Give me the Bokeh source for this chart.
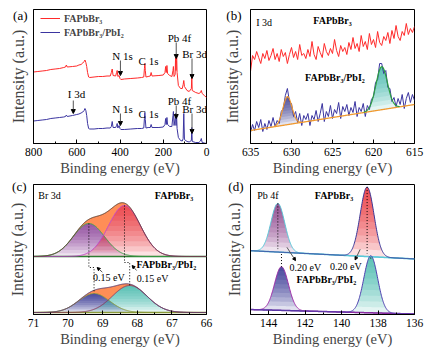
import numpy as np
from bokeh.plotting import figure
from bokeh.layouts import gridplot
from bokeh.models import Range1d, FixedTicker, Label, Arrow, NormalHead, Legend, LegendItem
from bokeh.embed import file_html
from bokeh.resources import INLINE

FONT = "Liberation Serif"

# ---------------- panel (a): survey spectra ----------------
a_energy = [800, 780, 760, 740, 720, 700, 680, 660, 652, 648, 644, 620, 600, 590, 580, 572, 566, 562, 558, 554,
            550, 545, 540, 520, 500, 480, 460, 445, 440, 436, 432, 420, 416, 413, 410, 404, 400, 396, 380, 350,
            320, 300, 290, 287, 285, 283, 280, 270, 260, 256, 252, 220, 200, 192, 189, 186, 183, 180, 170, 160,
            155, 153, 150, 145, 143, 141, 139, 138, 136, 130, 120, 112, 108, 105, 102, 90, 80, 70, 68, 66,
            50, 35, 28, 24, 20, 10, 0]
a_red = [71.5, 72, 72.5, 73, 74, 74.5, 75, 76, 76.5, 78.5, 76.5, 77, 77.5, 78.5, 79, 80.5, 82, 83.5, 81, 77,
         71, 66.5, 66, 66.5, 67, 67, 67.5, 67.5, 71, 74.5, 68, 67.5, 71, 73, 67, 68, 65, 64, 64.5, 65,
         65.5, 66, 66.5, 75, 80, 73, 66.5, 67, 67.5, 71, 67.5, 68, 68.5, 71, 77, 71, 78, 70, 68, 67,
         73, 77, 67, 69, 86, 73, 83, 88, 71, 58, 55, 55, 59, 63, 57, 53, 52, 55, 67, 53,
         51, 50, 51, 53, 50, 48, 46]
a_blue = [22.5, 23, 23.5, 24, 25, 25.5, 26, 26.5, 27, 28.5, 27, 28, 29, 29.5, 30.5, 31.5, 33, 35, 33, 28,
          20, 15, 14.5, 14.5, 15, 15, 15.5, 15.5, 17, 22, 16, 16, 18, 20, 15.5, 18, 15, 14, 14, 14.5,
          15, 15, 15.5, 25, 31, 24, 15.5, 16, 16, 19, 16, 16, 16.5, 19, 25, 19, 26, 19, 17, 17,
          28, 32, 18, 25, 30, 18, 28, 26, 15, 6, 3, 2.5, 5, 30, 4, 2, 1.5, 3, 16, 2,
          1, 1, 2.5, 5, 1, 0.5, 0]
a_ticks = [800, 600, 400, 200, 0]
a_labels = ["N 1s", "C 1s", "Pb 4f", "Br 3d", "I 3d", "N 1s", "C 1s", "Pb 4f", "Br 3d"]
a_lab_x = [388, 268, 125, 55, 601, 388, 268, 125, 55]
a_lab_y = [88, 83, 106, 90, 50, 35, 30, 43, 35]
a_arr_x = [398, 140, 67, 616, 398, 140, 67]
a_arr_y0 = [83, 101, 85, 43, 30, 38, 30]
a_arr_y1 = [68, 85, 65, 30, 18, 25, 10]

# ---------------- panel (b): I 3d ----------------
b_red = [72, 88, 84, 92, 86, 80, 90, 85, 93, 83, 88, 95, 84, 90, 82, 94, 87, 91, 80, 89,
         96, 86, 92, 84, 99, 88, 90, 85, 94, 87, 102, 89, 84, 97, 91, 86, 100, 92, 88, 95,
         90, 104, 93, 87, 98, 92, 96, 89, 101, 94, 106, 95, 100, 92, 108, 97, 102, 94, 110, 99,
         104, 96, 112, 101, 98, 107, 103, 111, 100, 113, 105, 118, 107, 103, 112, 108, 120, 109, 115, 111, 117]
b_blue = [11, 19, 13, 22, 16, 24, 12, 20, 14, 23, 17, 26, 17, 23, 20, 32, 35, 48, 55, 42,
          40, 27, 32, 21, 30, 18, 28, 24, 30, 18, 28, 24, 33, 22, 30, 40, 22, 32, 27, 38,
          25, 34, 30, 41, 25, 37, 32, 39, 28, 36, 31, 42, 27, 36, 32, 40, 27, 38, 34, 44,
          47, 61, 64, 80, 80, 70, 73, 56, 55, 42, 46, 37, 45, 39, 49, 35, 45, 51, 41, 49, 43]
b_range = [635, 615]
b_base = [13, 39]                 # fitted linear background at 635 / 615 eV
b_centers = [630.5, 619.0]
b_heights = [28, 43]
b_sigmas = [0.55, 0.70]
b_ticks = [635, 630, 625, 620, 615]

# ---------------- panel (c): Br 3d fits ----------------
c_top_base = 58
c_top_centers = [69.40, 68.37]
c_top_heights = [33, 51]
c_top_sigmas = [0.45, 0.46]
c_bot_base = 2
c_bot_centers = [69.25, 68.22]
c_bot_heights = [19, 27]
c_bot_sigmas = [0.45, 0.50]
c_ticks = [71, 70, 69, 68, 67, 66]

# ---------------- panel (d): Pb 4f fits ----------------
d_top_base = [64.3, 56.0]          # background at 145 / 136 eV
d_top_centers = [143.5, 138.6]
d_top_heights = [49, 70]
d_top_sigmas = [0.38, 0.38]
d_bot_base = [5.0, 0.5]
d_bot_centers = [143.3, 138.4]
d_bot_heights = [44, 57.5]
d_bot_sigmas = [0.38, 0.38]
d_ticks = [144, 142, 140, 138, 136]

# panel tags, shown at the upper left outside each frame
tag_text = ["(a)", "(b)", "(c)", "(d)"]
tag_y = [128, 128, 129, 130]


def gauss(x, c, h, s):
    return h * np.exp(-((x - c) ** 2) / (2.0 * s * s))


def make_fig(xr, yh, h, bl, br, bt, bb, ticks, minor, tag, tag_pos, tag_standoff, title_standoff):
    p = figure(width=221, height=h, x_range=Range1d(*xr), y_range=Range1d(0, yh),
               output_backend="svg", toolbar_location=None,
               min_border_left=bl, min_border_right=br, min_border_top=bt, min_border_bottom=bb)
    p.outline_line_color = "black"
    p.outline_line_alpha = 1
    p.outline_line_width = 1
    p.grid.visible = False
    p.background_fill_color = "white"
    p.border_fill_color = "white"
    ax = p.xaxis[0]
    ax.ticker = FixedTicker(ticks=ticks, minor_ticks=minor)
    ax.axis_label = "Binding energy (eV)"
    ax.axis_label_text_font = FONT
    ax.axis_label_text_font_style = "normal"
    ax.axis_label_text_font_size = "14.5px"
    ax.axis_label_standoff = 1
    ax.major_label_text_font = FONT
    ax.major_label_text_font_size = "11.5px"
    ax.major_label_text_color = "black"
    ax.major_label_standoff = 4
    ax.major_tick_in = 4
    ax.major_tick_out = 0
    ax.minor_tick_in = 2
    ax.minor_tick_out = 0
    ax.axis_line_color = "black"
    ay = p.yaxis[0]
    # the panel tag is carried by the single (untick-marked) label of the y axis
    ay.ticker = FixedTicker(ticks=[tag_pos])
    ay.major_label_overrides = {tag_pos: tag}
    ay.major_label_text_font = FONT
    ay.major_label_text_font_size = "13px"
    ay.major_label_text_color = "black"
    ay.major_label_standoff = tag_standoff
    ay.axis_label = "Intensity (a.u.)"
    ay.axis_label_text_font = FONT
    ay.axis_label_text_font_style = "normal"
    ay.axis_label_text_font_size = "16px"
    ay.axis_label_standoff = title_standoff
    ay.major_tick_in = 0
    ay.major_tick_out = 0
    ay.minor_tick_in = 0
    ay.minor_tick_out = 0
    return p


def txt(p, x, y, s, size="10px", bold=False, align="center"):
    p.add_layout(Label(x=x, y=y, text=s, text_font=FONT, text_font_size=size,
                       text_font_style="bold" if bold else "normal", text_align=align,
                       text_baseline="middle", text_color="black"))


def grad_fill(p, x, base, g, color, n=10, alpha=0.13):
    H = g.max()
    for k in range(n):
        t = H * k / n
        p.varea(x=x, y1=base + np.minimum(g, t), y2=base + g, fill_color=color, fill_alpha=alpha)


def arrow(p, x0, y0, x1, y1, size=4):
    p.add_layout(Arrow(end=NormalHead(size=size, line_color="black", fill_color="black", line_width=1),
                       x_start=x0, y_start=y0, x_end=x1, y_end=y1,
                       line_color="#555555", line_width=1))


# ======== (a) ========
pa = make_fig((800, 0), 134, 178, 33, 15, 9, 35, a_ticks, [700, 500, 300, 100],
              tag_text[0], tag_y[0], 6, -17)
r_red = pa.line(a_energy, a_red, line_color="#ff2a2a", line_width=1)
r_blue = pa.line(a_energy, a_blue, line_color="#3b35a0", line_width=1)
leg = Legend(items=[LegendItem(label="FAPbBr\u2083", renderers=[r_red]),
                    LegendItem(label="FAPbBr\u2083/PbI\u2082", renderers=[r_blue])],
             location=(4, 102), glyph_width=20, glyph_height=12, label_height=12,
             label_standoff=4, padding=3, spacing=2, margin=0,
             label_text_font=FONT, label_text_font_style="bold", label_text_font_size="10px",
             border_line_alpha=0, background_fill_alpha=0)
pa.add_layout(leg)
for s, x, y in zip(a_labels, a_lab_x, a_lab_y):
    txt(pa, x, y, s, size="11px")
for x, y0, y1 in zip(a_arr_x, a_arr_y0, a_arr_y1):
    arrow(pa, x, y0, x, y1)

# ======== (b) ========
pb = make_fig((635, 615), 134, 178, 21, 28, 9, 35, b_ticks, [632.5, 627.5, 622.5, 617.5],
              tag_text[1], tag_y[1], 9, -18)
xb = np.linspace(b_range[0], b_range[1], len(b_blue))
xf = np.linspace(b_range[0], b_range[1], 401)
bb = np.interp(xf, b_range[::-1], b_base[::-1])
gb1 = gauss(xf, b_centers[0], b_heights[0], b_sigmas[0])
gb2 = gauss(xf, b_centers[1], b_heights[1], b_sigmas[1])
grad_fill(pb, xf, bb, gb1, "#262685")
grad_fill(pb, xf, bb, gb2, "#2fb5a5")
pb.line(xb, b_red, line_color="#ff2a2a", line_width=1)
pb.line(xb, b_blue, line_color="#3b35a0", line_width=1)
pb.line(xf, bb, line_color="#f09a30", line_width=1.3)
m1 = gb1 > 0.3
m2 = gb2 > 0.3
pb.line(xf[m1], (bb + gb1)[m1], line_color="#f09a30", line_width=1.2)
pb.line(xf[m2], (bb + gb2)[m2], line_color="#2ca040", line_width=1.2)
txt(pb, 634.3, 121, "I 3d", size="10px", align="left")
txt(pb, 625.0, 123, "FAPbBr\u2083", size="10px", bold=True)
txt(pb, 624.7, 66, "FAPbBr\u2083/PbI\u2082", size="10px", bold=True)

# ======== (c) ========
pc = make_fig((71, 66), 130, 175, 33, 15, 6, 39, c_ticks, [70.5, 69.5, 68.5, 67.5, 66.5],
              tag_text[2], tag_y[2], 7, -17)
xc = np.linspace(71, 66, 501)
ct = np.full_like(xc, c_top_base)
g1 = gauss(xc, c_top_centers[0], c_top_heights[0], c_top_sigmas[0])
g2 = gauss(xc, c_top_centers[1], c_top_heights[1], c_top_sigmas[1])
grad_fill(pc, xc, ct, g1, "#7a2a8c")
grad_fill(pc, xc, ct, g2, "#e8141c")
pc.varea(x=xc, y1=ct + np.maximum(g1, g2), y2=ct + g1 + g2, fill_color="#ff7a3a", fill_alpha=0.85)
cb = np.full_like(xc, c_bot_base)
g3 = gauss(xc, c_bot_centers[0], c_bot_heights[0], c_bot_sigmas[0])
g4 = gauss(xc, c_bot_centers[1], c_bot_heights[1], c_bot_sigmas[1])
grad_fill(pc, xc, cb, g3, "#1a1a80")
grad_fill(pc, xc, cb, g4, "#2fb5a5")
pc.varea(x=xc, y1=cb + np.maximum(g3, g4), y2=cb + g3 + g4, fill_color="#ff7a3a", fill_alpha=0.85)
pc.line(xc, ct, line_color="#2e7d32", line_width=1.3)
pc.line(xc, ct + g1, line_color="#3aa04a", line_width=1)
pc.line(xc, ct + g2, line_color="#c040c8", line_width=1)
pc.line(xc, ct + g1 + g2, line_color="#5a3a2a", line_width=1)
pc.line(xc, cb, line_color="#8a9a3a", line_width=1.3)
pc.line(xc, cb + g3, line_color="#8a9a3a", line_width=1)
pc.line(xc, cb + g4, line_color="#8a3a5a", line_width=1)
pc.line(xc, cb + g3 + g4, line_color="#5a3a6a", line_width=1)
# shift guides (0.15 eV)
for ct_c, cb_c, ht, hb, yk in [(c_top_centers[0], c_bot_centers[0], c_top_base + c_top_heights[0],
                                c_bot_base + c_bot_heights[0], 47),
                               (c_top_centers[1], c_bot_centers[1], c_top_base + c_top_heights[1],
                                c_bot_base + c_bot_heights[1], 52)]:
    pc.line([ct_c, ct_c, cb_c, cb_c], [ht, yk, yk, hb], line_color="black", line_width=1, line_dash="1 2")
arrow(pc, 69.01, 42.3, 69.16, 47.0, size=3)
arrow(pc, 68.02, 44.0, 68.15, 49.0, size=3)
txt(pc, 68.82, 37, "0.15 eV", size="10px")
txt(pc, 67.56, 36, "0.15 eV", size="10px")
txt(pc, 70.86, 119, "Br 3d", size="10px", align="left")
txt(pc, 66.94, 119, "FAPbBr\u2083", size="10px", bold=True)
txt(pc, 67.16, 50, "FAPbBr\u2083/PbI\u2082", size="10px", bold=True)

# ======== (d) ========
pd_ = make_fig((145, 136), 131, 175, 21, 28, 6, 38, d_ticks, [145, 143, 141, 139, 137],
               tag_text[3], tag_y[3], 7, -18)
xd = np.linspace(145, 136, 451)
dt = np.interp(xd, [136, 145], d_top_base[::-1])
h1 = gauss(xd, d_top_centers[0], d_top_heights[0], d_top_sigmas[0])
h2 = gauss(xd, d_top_centers[1], d_top_heights[1], d_top_sigmas[1])
grad_fill(pd_, xd, dt, h1, "#7a2a7c")
grad_fill(pd_, xd, dt, h2, "#e8141c")
db = np.interp(xd, [136, 145], d_bot_base[::-1])
h3 = gauss(xd, d_bot_centers[0], d_bot_heights[0], d_bot_sigmas[0])
h4 = gauss(xd, d_bot_centers[1], d_bot_heights[1], d_bot_sigmas[1])
grad_fill(pd_, xd, db, h3, "#1a1a80")
grad_fill(pd_, xd, db, h4, "#2fb5a5")
pd_.line(xd, dt, line_color="#5ac8d8", line_width=1.5)
pd_.line(xd, dt + h1, line_color="#5ac8d8", line_width=1)
pd_.line(xd, dt + h2, line_color="#3a3a9a", line_width=1)
pd_.line(xd, db, line_color="#6a2a9a", line_width=1.5)
pd_.line(xd, db + h3, line_color="#a030a8", line_width=1)
pd_.line(xd, db + h4, line_color="#5040b0", line_width=1)
top_b = np.interp(d_top_centers[::-1], [136, 145], d_top_base[::-1])[::-1]
bot_b = np.interp(d_bot_centers[::-1], [136, 145], d_bot_base[::-1])[::-1]
for i in range(2):
    pd_.line([d_top_centers[i]] * 2, [top_b[i] + d_top_heights[i], top_b[i] + 3],
             line_color="black", line_width=1, line_dash="1 2")
    pd_.line([d_bot_centers[i]] * 2, [top_b[i] - 2, bot_b[i] + d_bot_heights[i]],
             line_color="black", line_width=1, line_dash="1 2")
arrow(pd_, 143.0, 67.7, 142.53, 54.3, size=3)
arrow(pd_, 138.98, 65.7, 139.26, 55.0, size=3)
txt(pd_, 141.99, 47, "0.20 eV", size="10px")
txt(pd_, 139.77, 48, "0.20 eV", size="10px")
txt(pd_, 144.63, 120, "Pb 4f", size="10px", align="left")
txt(pd_, 140.42, 120, "FAPbBr\u2083", size="10px", bold=True)
txt(pd_, 140.84, 35, "FAPbBr\u2083/PbI\u2082", size="10px", bold=True)

grid = gridplot([[pa, pb], [pc, pd_]], toolbar_location=None)
open("out.html", "w").write(file_html(grid, INLINE))
